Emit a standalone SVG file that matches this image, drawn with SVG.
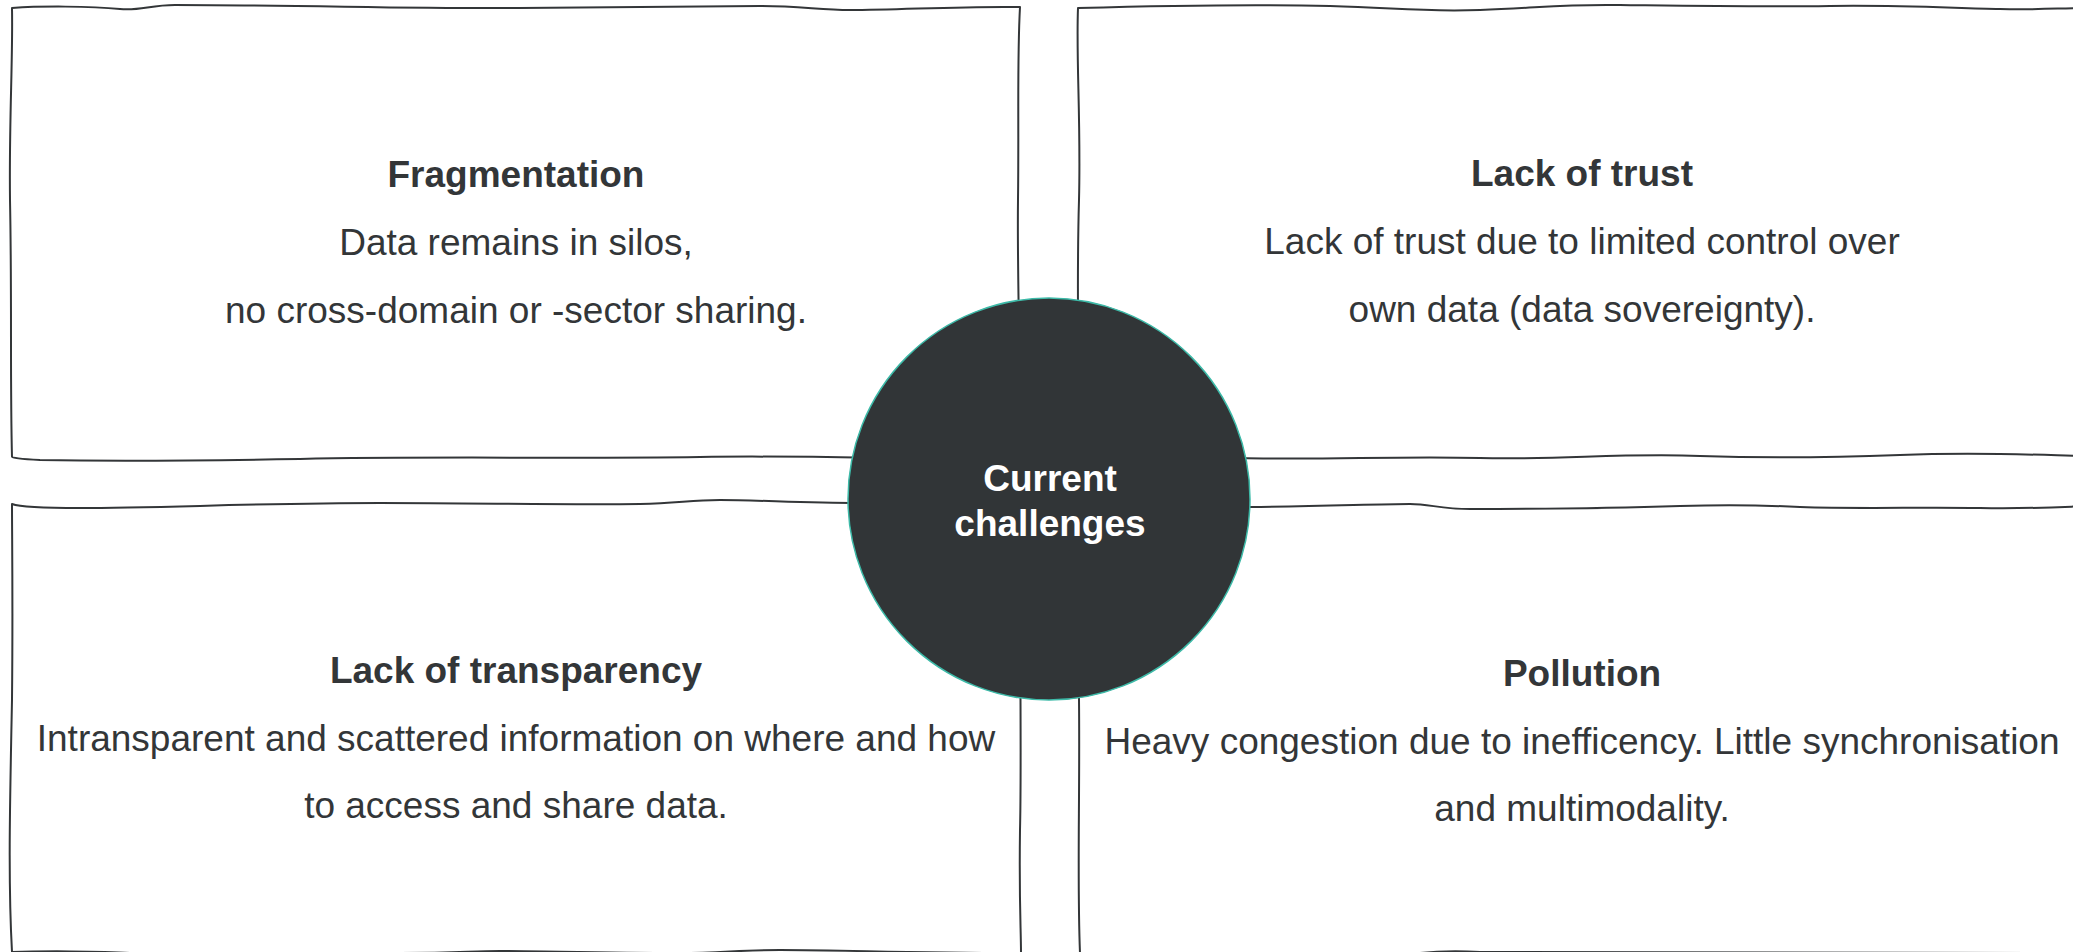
<svg xmlns="http://www.w3.org/2000/svg" width="2073" height="952" viewBox="0 0 2073 952">
<style>
.box{fill:#ffffff;stroke:#333638;stroke-width:2;stroke-linejoin:round}
.t{font-family:"Liberation Sans",Arial,sans-serif;font-size:37px;fill:#333638;text-anchor:middle}
.b{font-weight:bold}
.c{font-family:"Liberation Sans",Arial,sans-serif;font-size:37px;font-weight:bold;fill:#ffffff;text-anchor:middle}
</style>
<rect x="0" y="0" width="2073" height="952" fill="#ffffff"/>
<g id="connectors"></g>
<g id="fragmentation">
<path class="box" d="M12,8 C40,6 90,6 120,9 C140,11 150,5 175,5 C300,5 420,9 520,8 C620,7 700,6 760,6 C800,6 820,10 850,10 C900,10 960,6 1020,7 C1017,60 1019,120 1018,200 C1017,280 1021,360 1019,459 C900,460 820,455 700,457 C560,459 430,456 300,459 C180,461 100,461 40,460 C20,459 12,458 12,457 C10,380 12,300 10,200 C9,120 13,60 12,8 Z"/>
<text class="t b" x="516" y="187">Fragmentation</text>
<text class="t" x="516" y="255">Data remains in silos,</text>
<text class="t" x="516" y="323">no cross-domain or -sector sharing.</text>
</g>
<g id="lack-of-trust">
<path class="box" d="M1078,8 C1150,6 1250,4 1330,6 C1400,8 1420,12 1480,10 C1540,8 1560,4 1620,5 C1700,6 1760,7 1830,6 C1900,5 1950,8 2000,9 C2040,10 2060,8 2087,8 L2087,456 C2040,455 1980,452 1900,455 C1820,458 1760,458 1700,456 C1620,453 1560,460 1480,458 C1400,456 1320,460 1240,458 C1180,456 1120,457 1078,458 C1080,380 1076,300 1079,200 C1081,120 1076,60 1078,8 Z"/>
<text class="t b" x="1582" y="186">Lack of trust</text>
<text class="t" x="1582" y="254">Lack of trust due to limited control over</text>
<text class="t" x="1582" y="322">own data (data sovereignty).</text>
</g>
<g id="lack-of-transparency">
<path class="box" d="M12,504 C20,507 40,508 80,508 C160,508 260,503 380,503 C480,503 560,505 640,504 C680,503 690,500 720,500 C760,500 800,503 860,503 C920,503 980,505 1020,505 C1019,600 1022,750 1020,830 C1019,900 1021,930 1021,953 C900,953 850,950 780,950 C740,950 720,953 680,953 C600,953 540,951 500,951 C470,951 460,953 400,953 C300,953 200,953 130,953 C100,951 40,951 12,952 C8,880 10,800 12,700 C13,600 12,540 12,504 Z"/>
<text class="t b" x="516" y="683">Lack of transparency</text>
<text class="t" x="516" y="751">Intransparent and scattered information on where and how</text>
<text class="t" x="516" y="818">to access and share data.</text>
</g>
<g id="pollution">
<path class="box" d="M1078,507 C1150,508 1200,507 1250,507 C1330,506 1380,504 1410,504 C1430,504 1440,509 1470,509 C1540,509 1620,508 1680,506 C1720,505 1760,505 1800,507 C1860,509 1920,507 1980,508 C2030,509 2060,507 2087,506 L2087,953 C1800,953 1600,953 1480,952 C1460,951 1440,951 1420,953 C1300,953 1150,953 1080,953 C1077,880 1080,800 1079,700 C1078,600 1079,540 1078,507 Z"/>
<text class="t b" x="1582" y="686">Pollution</text>
<text class="t" x="1582" y="754">Heavy congestion due to inefficency. Little synchronisation</text>
<text class="t" x="1582" y="821">and multimodality.</text>
</g>
<g id="current-challenges">
<circle cx="1049" cy="499" r="201" fill="#313537" stroke="#3dbaa8" stroke-width="1.5"/>
<text class="c" x="1050" y="491">Current</text>
<text class="c" x="1050" y="536">challenges</text>
</g>
</svg>
